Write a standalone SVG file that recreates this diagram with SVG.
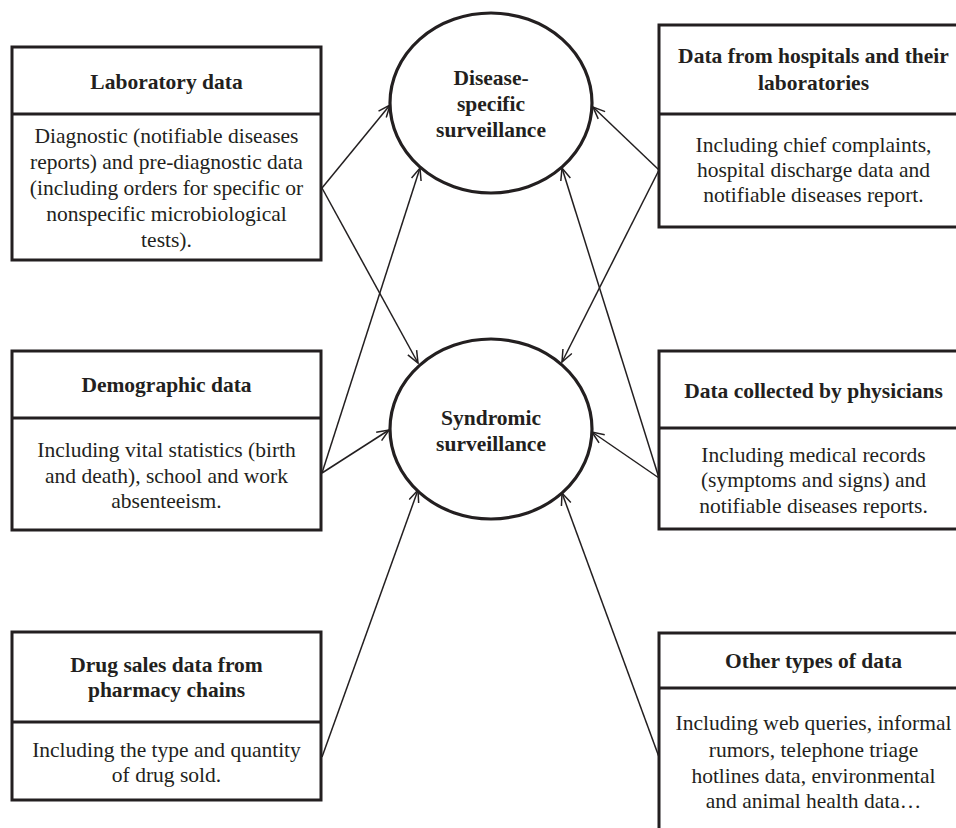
<svg xmlns="http://www.w3.org/2000/svg" width="956" height="828" viewBox="0 0 956 828">
<style>
.box{fill:#fff;stroke:#231f20;stroke-width:3}
.div{stroke:#231f20;stroke-width:3}
.ell{fill:#fff;stroke:#231f20;stroke-width:3.2}
text{font-family:"Liberation Serif","Times New Roman",serif;font-size:21.5px;fill:#231f20;text-anchor:middle}
.t{font-weight:bold}
.c{stroke:#231f20;stroke-width:1.5;fill:none;marker-end:url(#arr)}
</style>
<defs>
<marker id="arr" viewBox="0 0 14 12" refX="13" refY="6" markerWidth="14" markerHeight="12" markerUnits="userSpaceOnUse" orient="auto">
<path d="M1,1 L13,6 L1,11" fill="none" stroke="#231f20" stroke-width="1.5"/>
</marker>
</defs>
<rect width="956" height="828" fill="#fff"/>
<g id="connectors">
<line class="c" x1="322" y1="188" x2="390" y2="105"/>
<line class="c" x1="322" y1="188" x2="418" y2="363"/>
<line class="c" x1="322" y1="473" x2="389" y2="430"/>
<line class="c" x1="322" y1="473" x2="420" y2="168"/>
<line class="c" x1="322" y1="757" x2="418" y2="490"/>
<line class="c" x1="659" y1="170" x2="593" y2="107"/>
<line class="c" x1="659" y1="170" x2="562" y2="362"/>
<line class="c" x1="659" y1="478" x2="592" y2="432"/>
<line class="c" x1="659" y1="478" x2="562" y2="168"/>
<line class="c" x1="659" y1="757" x2="562" y2="493"/>
</g>
<g id="disease-specific">
<ellipse class="ell" cx="491" cy="103" rx="101" ry="90"/>
<text class="t" x="491" y="85">Disease-</text>
<text class="t" x="491" y="111">specific</text>
<text class="t" x="491" y="137">surveillance</text>
</g>
<g id="syndromic">
<ellipse class="ell" cx="491" cy="429" rx="101" ry="90"/>
<text class="t" x="491" y="425">Syndromic</text>
<text class="t" x="491" y="451">surveillance</text>
</g>
<g id="laboratory">
<rect class="box" x="12" y="47" width="309" height="213"/>
<line class="div" x1="12" y1="114" x2="321" y2="114"/>
<text class="t" x="166.5" y="89">Laboratory data</text>
<text x="166.5" y="143">Diagnostic (notifiable diseases</text>
<text x="166.5" y="169">reports) and pre-diagnostic data</text>
<text x="166.5" y="195">(including orders for specific or</text>
<text x="166.5" y="221">nonspecific microbiological</text>
<text x="166.5" y="247">tests).</text>
</g>
<g id="demographic">
<rect class="box" x="12" y="351" width="309" height="179"/>
<line class="div" x1="12" y1="418" x2="321" y2="418"/>
<text class="t" x="166.5" y="392">Demographic data</text>
<text x="166.5" y="457">Including vital statistics (birth</text>
<text x="166.5" y="483">and death), school and work</text>
<text x="166.5" y="508">absenteeism.</text>
</g>
<g id="drug-sales">
<rect class="box" x="12" y="632" width="309" height="168"/>
<line class="div" x1="12" y1="722" x2="321" y2="722"/>
<text class="t" x="166.5" y="672">Drug sales data from</text>
<text class="t" x="166.5" y="697">pharmacy chains</text>
<text x="166.5" y="757">Including the type and quantity</text>
<text x="166.5" y="782">of drug sold.</text>
</g>
<g id="hospitals">
<rect class="box" x="659" y="25" width="310" height="202"/>
<line class="div" x1="659" y1="114" x2="969" y2="114"/>
<text class="t" x="813.5" y="63">Data from hospitals and their</text>
<text class="t" x="813.5" y="90">laboratories</text>
<text x="813.5" y="152">Including chief complaints,</text>
<text x="813.5" y="177">hospital discharge data and</text>
<text x="813.5" y="202">notifiable diseases report.</text>
</g>
<g id="physicians">
<rect class="box" x="659" y="351" width="310" height="178"/>
<line class="div" x1="659" y1="428" x2="969" y2="428"/>
<text class="t" x="813.5" y="398">Data collected by physicians</text>
<text x="813.5" y="462">Including medical records</text>
<text x="813.5" y="487">(symptoms and signs) and</text>
<text x="813.5" y="513">notifiable diseases reports.</text>
</g>
<g id="other">
<rect class="box" x="659" y="633" width="310" height="220"/>
<line class="div" x1="659" y1="688" x2="969" y2="688"/>
<text class="t" x="813.5" y="668">Other types of data</text>
<text x="813.5" y="730">Including web queries, informal</text>
<text x="813.5" y="757">rumors, telephone triage</text>
<text x="813.5" y="783">hotlines data, environmental</text>
<text x="813.5" y="808">and animal health data…</text>
</g>
</svg>
